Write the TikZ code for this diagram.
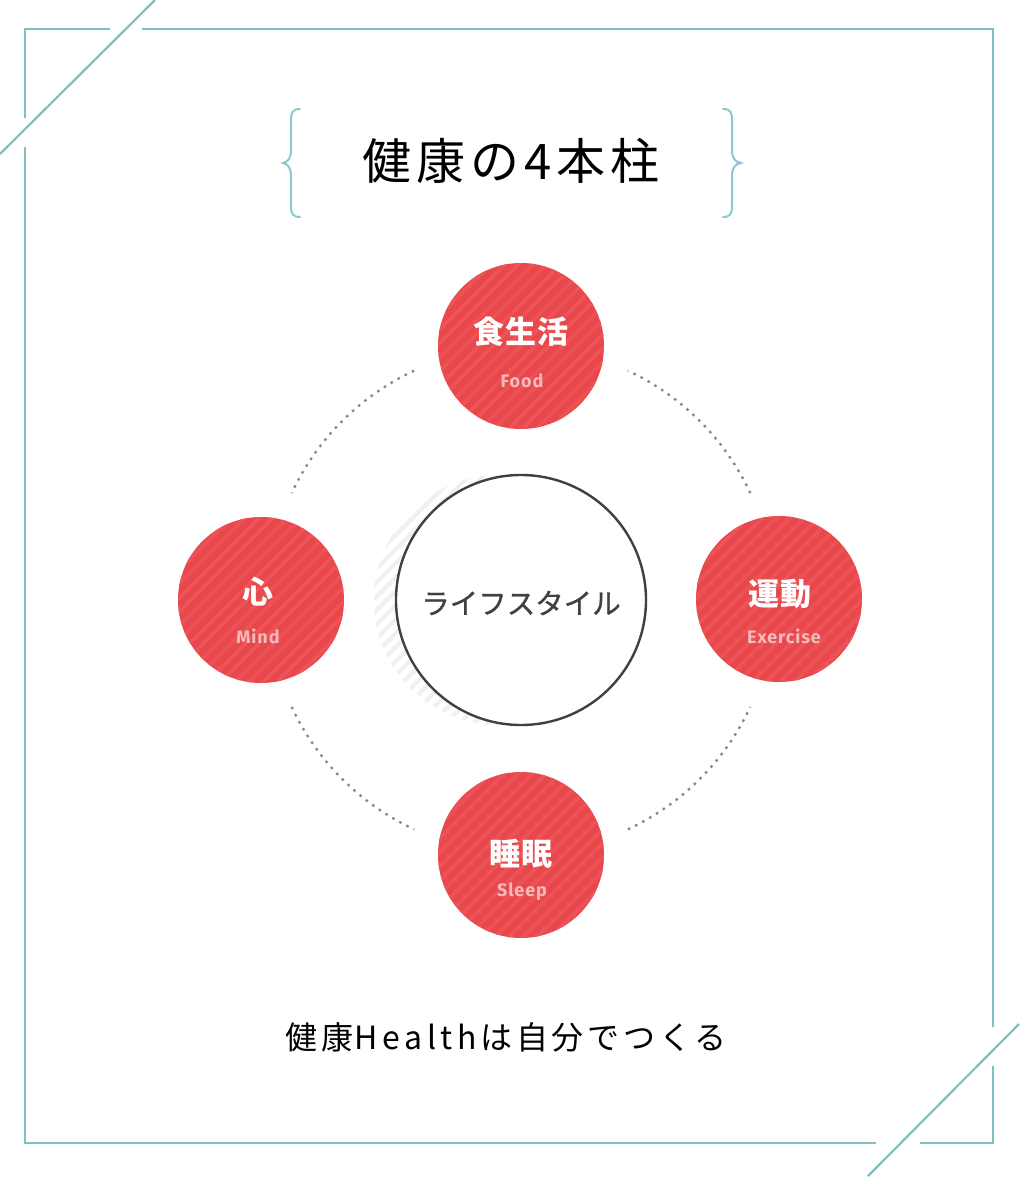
\documentclass[tikz,border=0pt]{standalone}
\usepackage{fontspec}
\newfontfamily\jp{Noto Sans CJK JP}
\newfontfamily\en{Fira Sans}
\usetikzlibrary{calc}
\definecolor{teal1}{RGB}{128,190,192}
\definecolor{teal2}{RGB}{140,200,204}
\definecolor{redbase}{RGB}{232,71,75}
\definecolor{redstripe}{RGB}{236,82,86}
\definecolor{dotgray}{RGB}{135,135,135}
\definecolor{ringgray}{RGB}{64,64,64}
\definecolor{shadowgray}{RGB}{240,240,240}
\tikzset{
  framel/.style={draw=teal1,line width=2.2pt},
  bracel/.style={draw=teal2,line width=2pt,line cap=round},
  stripes/.style={path picture={
     \foreach \k in {-16,...,16}
       \draw[#1,line width=4pt] ([xshift=\k*14pt-130pt,yshift=-130pt]path picture bounding box.center) -- ++(260pt,260pt);}},
  redc/.style={circle,minimum size=166pt,inner sep=0pt,fill=redbase,stripes=redstripe},
  shadowc/.style={circle,minimum size=250pt,inner sep=0pt,stripes=shadowgray},
  lifec/.style={circle,minimum size=250pt,inner sep=0pt,draw=ringgray,line width=2.4pt,fill=white},
  jpw/.style={text=white,font=\jp\bfseries\fontsize{31}{31}\selectfont\addfontfeature{LetterSpace=4},inner sep=0pt},
  enw/.style={text=white,text opacity=0.62,font=\en\bfseries\fontsize{18}{18}\selectfont\addfontfeature{LetterSpace=5},inner sep=0pt},
  dots/.style={draw=dotgray,line width=2.3pt,dash pattern=on 2.5pt off 5.5pt}
}
\begin{document}
\begin{tikzpicture}[x=1pt,y=-1pt]
\useasboundingbox (0,0) rectangle (1022,1178);
\fill[white] (0,0) rectangle (1022,1178);
% frame
\draw[framel] (25,118) -- (25,29) -- (110,29);
\draw[framel] (142,29) -- (993,29) -- (993,1027);
\draw[framel] (25,147) -- (25,1143) -- (876,1143);
\draw[framel] (920,1143) -- (993,1143) -- (993,1066);
\draw[framel] (0,154) -- (155,0);
\draw[framel] (868,1176) -- (1019,1024);
% braces
\draw[bracel] (300,109) .. controls (293,109) and (291,112) .. (291,120) -- (291,150) .. controls (291,158) and (288,162) .. (283,163)
   .. controls (288,164) and (291,168) .. (291,176) -- (291,206) .. controls (291,214) and (293,217) .. (300,217);
\draw[bracel] (723,109) .. controls (730,109) and (732,112) .. (732,120) -- (732,150) .. controls (732,158) and (735,162) .. (741,163)
   .. controls (735,164) and (732,168) .. (732,176) -- (732,206) .. controls (732,214) and (730,217) .. (723,217);
\node[font=\jp\fontsize{49}{49}\selectfont\addfontfeature{LetterSpace=10},inner sep=0pt] (title) at (511,161) {健康の4本柱};
% centre
\node[shadowc] (shadow) at (499,600) {};
\node[lifec] (life) at (521,600) {};
\node[font=\jp\fontsize{28.5}{28.5}\selectfont\addfontfeature{FakeBold=0.8},text=ringgray,inner sep=0pt] (lifet) at (521,603) {ライフスタイル};
% dotted arcs
\draw[dots] ([shift={(25:253pt)}]life.center) arc[start angle=25,end angle=65,radius=253pt];
\draw[dots] ([shift={(115:253pt)}]life.center) arc[start angle=115,end angle=155,radius=253pt];
\draw[dots] ([shift={(205:253pt)}]life.center) arc[start angle=205,end angle=245,radius=253pt];
\draw[dots] ([shift={(295:253pt)}]life.center) arc[start angle=295,end angle=335,radius=253pt];
% red circles
\node[redc] (food) at (521,346) {};
\node[jpw] (foodj) at (521,332) {食生活};
\node[enw] (foode) at (522,381) {Food};
\node[redc] (ex) at (779,599) {};
\node[jpw] (exj) at (780,594) {運動};
\node[enw] (exe) at (784,636) {Exercise};
\node[redc] (mind) at (261,600) {};
\node[jpw] (mindj) at (258,592) {心};
\node[enw] (minde) at (258,636) {Mind};
\node[redc] (sleep) at (521,855) {};
\node[jpw] (sleepj) at (521,854) {睡眠};
\node[enw] (sleepe) at (522,892) {Sleep};
% slogan
\node[font=\jp\fontsize{32}{32}\selectfont,inner sep=0pt] (slogan) at (506,1037)
  {\addfontfeature{LetterSpace=12}健康\hspace{1pt}{\addfontfeature{LetterSpace=15}Health}\hspace{3pt}{\addfontfeature{LetterSpace=12}は自分でつくる}};
\end{tikzpicture}
\end{document}
